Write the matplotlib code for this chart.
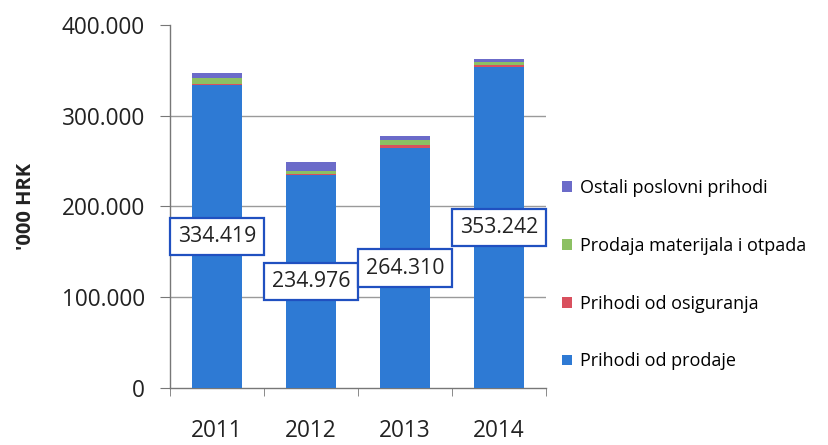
import matplotlib
matplotlib.use("Agg")
import matplotlib.pyplot as plt
from matplotlib.ticker import FuncFormatter, FixedLocator
import numpy as np

years = ["2011", "2012", "2013", "2014"]
prihodi_od_prodaje = [334419, 234976, 264310, 353242]
prihodi_od_osiguranja = [1000, 500, 3500, 2500]
prodaja_materijala = [6000, 3500, 5000, 3500]
ostali_prihodi = [6000, 9800, 4500, 3500]
label_values = ["334.419", "234.976", "264.310", "353.242"]

series_names = ["Prihodi od prodaje", "Prihodi od osiguranja",
                "Prodaja materijala i otpada", "Ostali poslovni prihodi"]
colors = ["#2E7AD4", "#D9505E", "#8CC063", "#6B6BC9"]

plt.rcParams['font.family'] = ['Open Sans', 'DejaVu Sans']

fig = plt.figure(figsize=(8.29, 4.45), dpi=100)
ax = fig.add_axes([170/829, 1 - 388/445, (546-170)/829, (388-25)/445])

x = np.arange(len(years))
width = 0.54
bottom = np.zeros(len(years))
handles = []
for vals, col, name in zip([prihodi_od_prodaje, prihodi_od_osiguranja,
                            prodaja_materijala, ostali_prihodi], colors, series_names):
    b = ax.bar(x, vals, width, bottom=bottom, color=col, label=name, zorder=3)
    handles.append(b)
    bottom += np.array(vals)

for xi, v, txt in zip(x, prihodi_od_prodaje, label_values):
    ax.text(xi, v / 2, txt, ha='center', va='center', fontsize=15.3, color='#222222',
            zorder=5,
            bbox=dict(boxstyle='square,pad=0.38', fc='white', ec='#2050C0', lw=1.6))

ax.set_xlim(-0.5, 3.5)
ax.set_ylim(0, 400000)
ax.yaxis.set_major_locator(FixedLocator([0, 100000, 200000, 300000, 400000]))
ax.yaxis.set_major_formatter(FuncFormatter(lambda v, p: f"{int(v):,}".replace(",", ".")))
ax.set_xticks(x)
ax.set_xticklabels(years)
ax.set_xticks(np.arange(-0.5, 4.0, 1.0), minor=True)
ax.tick_params(axis='x', which='major', length=0, labelsize=16.3, pad=22, colors='#222222')
ax.tick_params(axis='x', which='minor', length=6, color='#777777', direction='out')
ax.tick_params(axis='y', length=7, color='#777777', labelsize=16.3, pad=11, colors='#222222')

for yv in [100000, 200000, 300000]:
    ax.axhline(yv, color='#9a9a9a', lw=1.0, zorder=1)

for s in ['top', 'right']:
    ax.spines[s].set_visible(False)
for s in ['left', 'bottom']:
    ax.spines[s].set_color('#777777')
    ax.spines[s].set_linewidth(1.0)

ax.set_ylabel("'000 HRK", fontsize=14.5, fontweight='bold', color='#222222')
ax.yaxis.set_label_coords((36 - 170) / 376, 0.5)

leg_handles = handles[::-1]
leg_labels = series_names[::-1]
leg = fig.legend(leg_handles, leg_labels, loc='upper left', bbox_to_anchor=(555/829, 1 - 172/445),
                 frameon=False, fontsize=13, handlelength=0.55, handleheight=0.55,
                 handletextpad=0.45, labelspacing=2.2, borderaxespad=0)

fig.savefig("out.png", dpi=100)
